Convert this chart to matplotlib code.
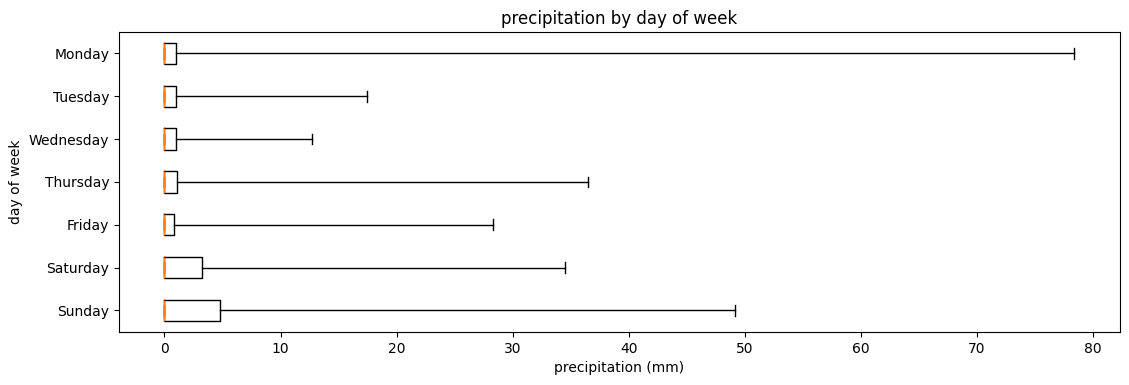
import matplotlib
matplotlib.use("Agg")
import matplotlib.pyplot as plt

days = ["Monday", "Tuesday", "Wednesday", "Thursday", "Friday", "Saturday", "Sunday"]
mins = [0, 0, 0, 0, 0, 0, 0]
q1 = [0, 0, 0, 0, 0, 0, 0]
medians = [0, 0, 0, 0, 0, 0, 0]
q3 = [1.0, 0.95, 1.0, 1.12, 0.78, 3.2, 4.75]
maxs = [78.4, 17.45, 12.75, 36.45, 28.3, 34.5, 49.15]

stats = []
for d, lo, a, m, b, hi in zip(days, mins, q1, medians, q3, maxs):
    stats.append(dict(label=d, whislo=lo, q1=a, med=m, q3=b, whishi=hi, fliers=[]))

fig, ax = plt.subplots(figsize=(11.29, 3.85), dpi=100)
ax.bxp(stats, vert=False, showfliers=False)
ax.invert_yaxis()
ax.set_title("precipitation by day of week")
ax.set_xlabel("precipitation (mm)")
ax.set_ylabel("day of week")
fig.subplots_adjust(left=0.1054, right=0.992, top=0.917, bottom=0.138)
fig.savefig("out.png")
